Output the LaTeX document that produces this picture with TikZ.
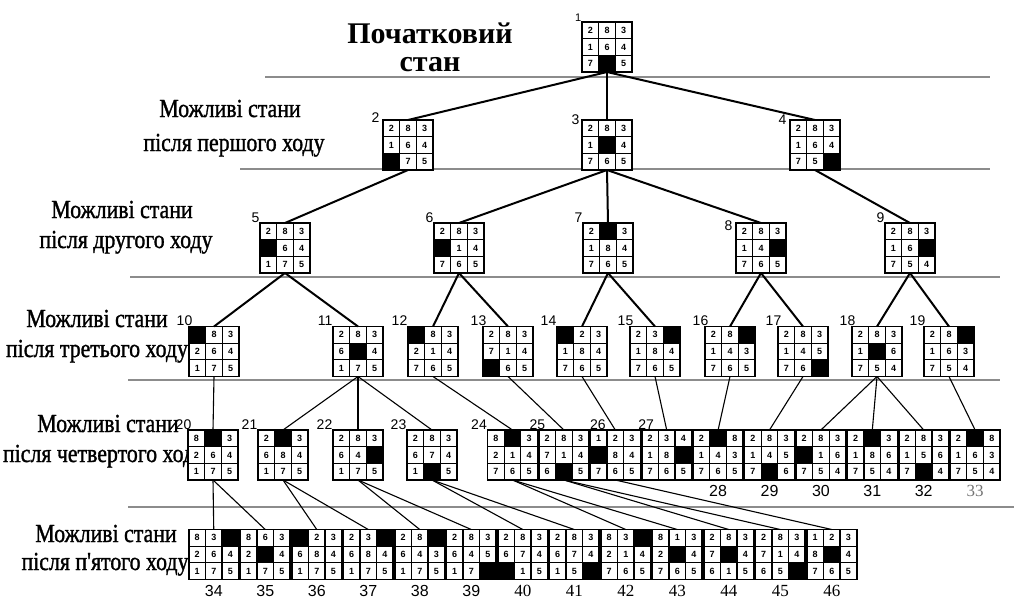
\documentclass[tikz,border=0pt]{standalone}
\usepackage{fontspec}
\setmainfont{Liberation Serif}
\newfontfamily\numfont{Liberation Sans}
\newfontfamily\headfont[FakeStretch=0.84, FakeBold=1.2]{Liberation Serif}
\usetikzlibrary{positioning, calc}

% one 8-puzzle board: options, name, nine cells (0 = empty cell)
\newcommand{\board}[3][]{%
  \node[board, #1] (#2) {};
  \foreach \v [count=\k from 0] in {#3}{%
    \pgfmathtruncatemacro{\bcol}{mod(\k,3)}%
    \pgfmathtruncatemacro{\brow}{div(\k,3)}%
    \ifnum\v=0\relax
      \fill[black] ($(#2.north west)+(\bcol*16.667,\brow*16.667)$) rectangle ++(16.667,16.667);
    \else
      \node[tile] (#2-\k) at ($(#2.north west)+(\bcol*16.667+8.333,\brow*16.667+8.333)$) {\v};
    \fi
  }%
  \draw[line width=1.6pt] (#2.north west) rectangle (#2.south east);
}

\begin{document}
\begin{tikzpicture}[x=1pt, y=-1pt,
    board/.style={rectangle, draw=black, line width=1.6pt, fill=white, minimum width=50pt, minimum height=50pt, inner sep=0pt, outer sep=0pt},
    tile/.style={rectangle, draw=black, line width=1.2pt, fill=white, minimum size=16.667pt, inner sep=0pt, font=\numfont\bfseries\fontsize{9}{9}\selectfont},
    numlab/.style={font=\numfont\fontsize{14}{14}\selectfont, inner sep=0.5pt},
    toplab/.style={font=\numfont\fontsize{11}{11}\selectfont, inner sep=0.5pt},
    biglab/.style={font=\numfont\fontsize{16}{16}\selectfont, inner sep=0.5pt, yshift=-5pt},
    serlab/.style={font=\fontsize{17}{17}\selectfont, inner sep=0.5pt, yshift=-5pt},
    head/.style={font=\headfont\fontsize{26}{26}\selectfont, inner sep=0pt, anchor=base},
    title/.style={font=\bfseries\fontsize{30}{30}\selectfont, inner sep=0pt, anchor=base},
    edge/.style={line width=2pt},
    thinedge/.style={line width=1.1pt},
    rule/.style={draw=black!45, line width=1.4pt}
]
\useasboundingbox (0,0) rectangle (1014,603);

% level separators
\draw[rule] (265,77) -- (990,77);
\draw[rule] (240,169) -- (990,169);
\draw[rule] (130,277) -- (1000,277);
\draw[rule] (128,380) -- (1000,380);
\draw[rule] (128,507) -- (1014,507);

% level captions
\node[title] (t0a) at (430,43) {Початковий};
\node[title] (t0b) at (430,71) {стан};
\node[head] (t1a) at (230,117) {Можливі стани};
\node[head] (t1b) at (234,151) {після першого ходу};
\node[head] (t2a) at (122,218) {Можливі стани};
\node[head] (t2b) at (126,248) {після другого ходу};
\node[head] (t3a) at (97,327) {Можливі стани};
\node[head] (t3b) at (97,357) {після третього ходу};
\node[head] (t4a) at (108,432) {Можливі стани};
\node[head] (t4b) at (104,462) {після четвертого ходу};
\node[head] (t5a) at (106,542) {Можливі стани};
\node[head] (t5b) at (105,570) {після п'ятого ходу};

% start
\board[at={(607,47)}, label={[toplab]north west:1}]{s1}{2,8,3,1,6,4,7,0,5}

% first move
\board[at={(408,145)}, label={[numlab, xshift=-3pt, yshift=-3pt]north west:2}]{s2}{2,8,3,1,6,4,0,7,5}
\board[at={(607,145)}, label={[numlab, xshift=-2pt, yshift=-5pt]north west:3}]{s3}{2,8,3,1,0,4,7,6,5}
\board[at={(815,145)}, label={[numlab, xshift=-3pt, yshift=-5pt]north west:4}]{s4}{2,8,3,1,6,4,7,5,0}

% second move
\board[at={(285,248)}, label={[numlab]north west:5}]{s5}{2,8,3,0,6,4,1,7,5}
\board[at={(459,248)}, label={[numlab]north west:6}]{s6}{2,8,3,0,1,4,7,6,5}
\board[at={(608,248)}, label={[numlab]north west:7}]{s7}{2,0,3,1,8,4,7,6,5}
\board[at={(761,248)}, label={[numlab, xshift=-3pt, yshift=-8pt]north west:8}]{s8}{2,8,3,1,4,0,7,6,5}
\board[at={(910,248)}, label={[numlab]north west:9}]{s9}{2,8,3,1,6,0,7,5,4}

% third move
\board[at={(214,351.5)}, label={[numlab, xshift=4pt]north west:10}]{s10}{0,8,3,2,6,4,1,7,5}
\board[at={(358,351.5)}, label={[numlab]north west:11}]{s11}{2,8,3,6,0,4,1,7,5}
\board[at={(433,351.5)}, label={[numlab]north west:12}]{s12}{0,8,3,2,1,4,7,6,5}
\board[at={(508,351.5)}, label={[numlab, xshift=4pt]north west:13}]{s13}{2,8,3,7,1,4,0,6,5}
\board[at={(582,351.5)}, label={[numlab]north west:14}]{s14}{0,2,3,1,8,4,7,6,5}
\board[at={(655,351.5)}, label={[numlab, xshift=4pt]north west:15}]{s15}{2,3,0,1,8,4,7,6,5}
\board[at={(730,351.5)}, label={[numlab, xshift=4pt]north west:16}]{s16}{2,8,0,1,4,3,7,6,5}
\board[at={(803,351.5)}, label={[numlab, xshift=4pt]north west:17}]{s17}{2,8,3,1,4,5,7,6,0}
\board[at={(877,351.5)}, label={[numlab, xshift=4pt]north west:18}]{s18}{2,8,3,1,0,6,7,5,4}
\board[at={(949,351.5)}, label={[numlab, xshift=2pt]north west:19}]{s19}{2,8,0,1,6,3,7,5,4}

% fourth move
\board[at={(213,455)}, label={[numlab, xshift=4pt]north west:20}]{s20}{8,0,3,2,6,4,1,7,5}
\board[at={(283,455)}, label={[numlab]north west:21}]{s21}{2,0,3,6,8,4,1,7,5}
\board[at={(358,455)}, label={[numlab]north west:22}]{s22}{2,8,3,6,4,0,1,7,5}
\board[at={(432,455)}, label={[numlab]north west:23}]{s23}{2,8,3,6,7,4,1,0,5}
\board[at={(512.5,455)}, label={[numlab]north west:24}]{s24}{8,0,3,2,1,4,7,6,5}
\board[right=1.4pt of s24, label={[numlab, xshift=7pt]north west:25}]{s25}{2,8,3,7,1,4,6,0,5}
\board[right=1.4pt of s25, label={[numlab, xshift=16pt]north west:26}]{s26}{1,2,3,0,8,4,7,6,5}
\board[right=1.4pt of s26, label={[numlab, xshift=13pt]north west:27}]{s27}{2,3,4,1,8,0,7,6,5}
\board[right=1.4pt of s27, label={[biglab]below:28}]{s28}{2,0,8,1,4,3,7,6,5}
\board[right=1.4pt of s28, label={[biglab]below:29}]{s29}{2,8,3,1,4,5,7,0,6}
\board[right=1.4pt of s29, label={[biglab]below:30}]{s30}{2,8,3,0,1,6,7,5,4}
\board[right=1.4pt of s30, label={[biglab]below:31}]{s31}{2,0,3,1,8,6,7,5,4}
\board[right=1.4pt of s31, label={[biglab]below:32}]{s32}{2,8,3,1,5,6,7,0,4}
\board[right=1.4pt of s32, label={[serlab, text=black!55]below:33}]{s33}{2,0,8,1,6,3,7,5,4}

% fifth move
\board[at={(213.75,554.5)}, label={[biglab]below:34}]{s34}{8,3,0,2,6,4,1,7,5}
\board[right=1.5pt of s34, label={[biglab]below:35}]{s35}{8,6,3,2,0,4,1,7,5}
\board[right=1.5pt of s35, label={[biglab]below:36}]{s36}{0,2,3,6,8,4,1,7,5}
\board[right=1.5pt of s36, label={[biglab]below:37}]{s37}{2,3,0,6,8,4,1,7,5}
\board[right=1.5pt of s37, label={[biglab]below:38}]{s38}{2,8,0,6,4,3,1,7,5}
\board[right=1.5pt of s38, label={[biglab]below:39}]{s39}{2,8,3,6,4,5,1,7,0}
\board[right=1.5pt of s39, label={[serlab]below:40}]{s40}{2,8,3,6,7,4,0,1,5}
\board[right=1.5pt of s40, label={[serlab]below:41}]{s41}{2,8,3,6,7,4,1,5,0}
\board[right=1.5pt of s41, label={[serlab]below:42}]{s42}{8,3,0,2,1,4,7,6,5}
\board[right=1.5pt of s42, label={[serlab]below:43}]{s43}{8,1,3,2,0,4,7,6,5}
\board[right=1.5pt of s43, label={[serlab]below:44}]{s44}{2,8,3,7,0,4,6,1,5}
\board[right=1.5pt of s44, label={[serlab]below:45}]{s45}{2,8,3,7,1,4,6,5,0}
\board[right=1.5pt of s45, label={[serlab]below:46}]{s46}{1,2,3,8,0,4,7,6,5}

% moves
\foreach \p/\c in {s1/s2, s1/s3, s1/s4, s2/s5, s3/s6, s3/s7, s3/s8, s4/s9,
    s5/s10, s5/s11, s6/s12, s6/s13, s7/s14, s7/s15, s8/s16, s8/s17, s9/s18, s9/s19}
  \draw[edge] (\p.south) -- (\c.north);
\foreach \p/\c in {s10/s20, s11/s21, s11/s22, s11/s23, s12/s24, s13/s25, s14/s26, s15/s27,
    s16/s28, s17/s29, s18/s30, s18/s31, s18/s32, s19/s33,
    s20/s34, s20/s35, s21/s36, s21/s37, s22/s38, s22/s39, s23/s40, s23/s41,
    s24/s42, s24/s43, s25/s44, s25/s45, s26/s46}
  \draw[thinedge] (\p.south) -- (\c.north);

\end{tikzpicture}
\end{document}
